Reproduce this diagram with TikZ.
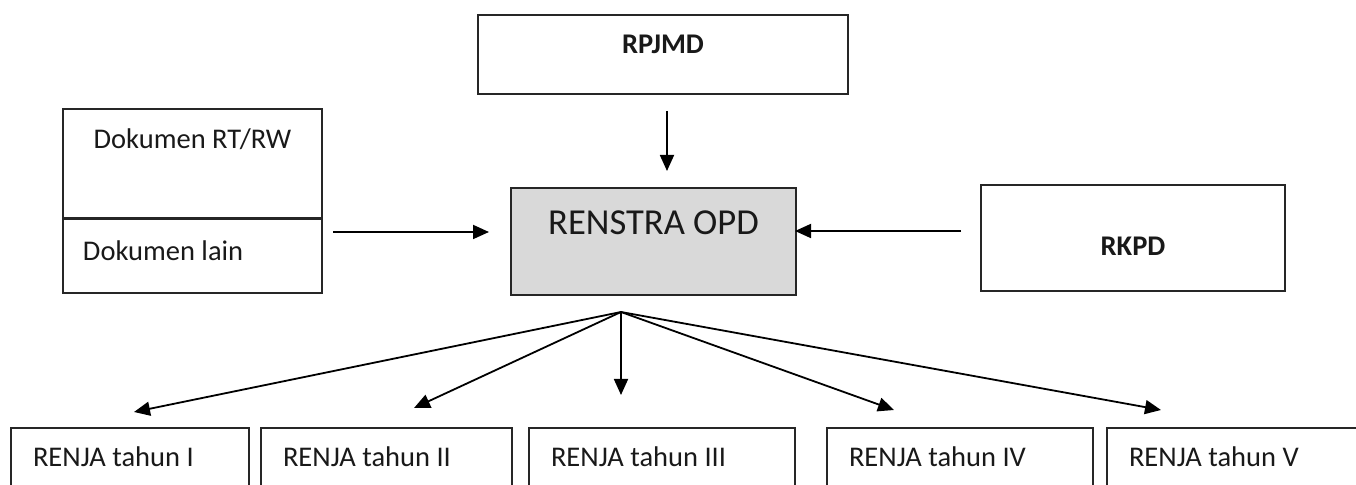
\documentclass[tikz,border=0pt]{standalone}
\usepackage{fontspec}
\setmainfont{Carlito}
\usepackage{tikz}
\usetikzlibrary{arrows.meta, positioning}
\tikzstyle{box} = [rectangle, draw=black!85, line width=1pt, outer sep=0pt, inner sep=0pt, align=center, text=black!90, font=\fontsize{14.25}{17}\selectfont]
\tikzstyle{keybox} = [box, font=\fontsize{14.25}{17}\selectfont\bfseries]
\tikzstyle{renja} = [box, minimum height=40pt, inner xsep=11pt, align=flush left, text height=10pt, text depth=11pt]
\tikzstyle{arrow} = [line width=0.9pt, -{Triangle[length=8pt, width=7pt]}]

\begin{document}
\begin{tikzpicture}[x=0.5pt, y=-0.5pt]
  \useasboundingbox (0,0) rectangle (1356,485);
  \node[keybox, minimum width=185pt, minimum height=39.5pt, text height=10pt, text depth=10.5pt] (rpjmd) at (663,54.5) {RPJMD};
  \node[box, fill=gray!30, font=\fontsize{18.3}{22}\selectfont, minimum width=142.5pt, minimum height=53.5pt, text height=13pt, text depth=19.9pt] (renstra) at (653.5,241.5) {RENSTRA OPD};
  \node[keybox, minimum width=152pt, minimum height=53pt, text height=20pt, text depth=2pt] (rkpd) at (1133,238) {RKPD};
  \node[box, anchor=north west, minimum width=129.5pt, minimum height=54.5pt, text height=10pt, text depth=24.5pt] (rtrw) at (63,109) {Dokumen RT/RW};
  \node[box, below=0.5pt of rtrw, text width=109.5pt, inner xsep=10pt, align=flush left, minimum height=37pt, text height=10pt, text depth=5pt] (lain) {Dokumen lain};

  \node[renja, anchor=north west, text width=97pt] (renja1) at (11,428) {RENJA tahun I};
  \node[renja, right=6pt of renja1, text width=103.5pt] (renja2) {RENJA tahun II};
  \node[renja, right=8.5pt of renja2, text width=111pt] (renja3) {RENJA tahun III};
  \node[renja, right=16pt of renja3, text width=111pt] (renja4) {RENJA tahun IV};
  \node[renja, right=7pt of renja4, text width=114.5pt] (renja5) {RENJA tahun V};

  \coordinate (hub) at (621,312);
  \coordinate (t1) at (134,412);
  \coordinate (t2) at (414,408);
  \coordinate (t3) at (621,395);
  \coordinate (t4) at (894,410);
  \coordinate (t5) at (1161,410);

  \draw[arrow, shorten <=8.5pt, shorten >=8.5pt] ([xshift=2pt]rpjmd.south) -- ([xshift=2pt]rpjmd.south |- renstra.north);
  \draw[arrow, shorten <=5.5pt, shorten >=11pt] (lain.east |- 0,232) -- (renstra.west |- 0,232);
  \draw[arrow, shorten <=10pt, shorten >=-0.5pt] (rkpd.west |- 0,231) -- (renstra.east |- 0,231);
  \draw[arrow] (hub) -- (t1);
  \draw[arrow] (hub) -- (t2);
  \draw[arrow] (hub) -- (t3);
  \draw[arrow] (hub) -- (t4);
  \draw[arrow] (hub) -- (t5);
\end{tikzpicture}
\end{document}
